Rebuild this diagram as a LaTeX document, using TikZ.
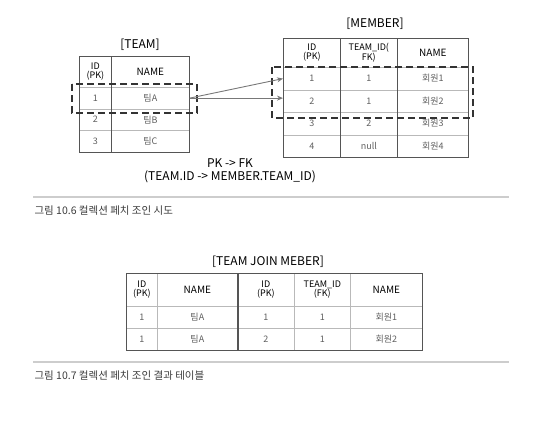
\documentclass[tikz,border=0pt]{standalone}
\usepackage{fontspec}
\setmainfont{Noto Sans CJK KR}
\usetikzlibrary{arrows.meta,positioning}
\definecolor{GridGray}{RGB}{185,185,185}
\definecolor{FrameGray}{RGB}{85,85,85}
\definecolor{CellText}{RGB}{95,95,95}
\definecolor{RuleGray}{RGB}{205,205,205}
\definecolor{CapText}{RGB}{60,60,60}
\definecolor{LinkGray}{RGB}{120,120,120}

\tikzset{
  cell/.style={draw=GridGray,line width=0.7pt,inner sep=0pt,anchor=north west,
    align=center,text=CellText,font=\fontsize{9}{10}\selectfont},
  head/.style={cell,text=black,font=\fontsize{9}{9}\selectfont},
  frame/.style={draw=FrameGray,line width=1pt},
  selbox/.style={draw=black!80,line width=1.6pt,dash pattern=on 7pt off 4pt},
  link/.style={draw=LinkGray,line width=0.9pt,-{Stealth[length=6pt,width=5pt]}},
  title/.style={font=\fontsize{12}{13.5}\selectfont},
  caption/.style={anchor=west,text=CapText,font=\fontsize{10.5}{12}\selectfont}
}

\begin{document}
\begin{tikzpicture}[x=1pt,y=-1pt]
  \useasboundingbox (0,0) rectangle (546,424);

  % TEAM table
  \node[title] (teamtitle) at (140,45) {[TEAM]};
  \node[head,minimum width=32,minimum height=31] (thid) at (79,56) {ID\\(PK)};
  \node[head,minimum width=78,minimum height=31,font=\fontsize{10}{10}\selectfont] (thnm) at (111,56) {NAME};
  \foreach \r/\y/\nm in {1/87/팀A,2/108.5/팀B,3/130/팀C}{
    \node[cell,minimum width=32,minimum height=21.5] (t\r id) at (79,\y) {\r};
    \node[cell,minimum width=78,minimum height=21.5] (t\r nm) at (111,\y) {\nm};
  }
  \draw[frame] (thid.north west) rectangle (t3nm.south east);
  \draw[frame] (thid.north east) -- (t3id.south east);

  % MEMBER table
  \node[title] (membertitle) at (375,24) {[MEMBER]};
  \node[head,minimum width=57,minimum height=29] (mhid) at (283,38) {ID\\(PK)};
  \node[head,minimum width=57,minimum height=29] (mhtm) at (340,38) {TEAM\_ID(\\FK)};
  \node[head,minimum width=71,minimum height=29,font=\fontsize{10}{10}\selectfont] (mhnm) at (397,38) {NAME};
  \foreach \r/\y/\tm/\nm in {1/67/1/회원1,2/89.5/1/회원2,3/112/2/회원3,4/134.5/null/회원4}{
    \node[cell,minimum width=57,minimum height=22.5] (m\r id) at (283,\y) {\r};
    \node[cell,minimum width=57,minimum height=22.5] (m\r tm) at (340,\y) {\tm};
    \node[cell,minimum width=71,minimum height=22.5] (m\r nm) at (397,\y) {\nm};
  }
  \draw[frame] (mhid.north west) rectangle (m4nm.south east);
  \draw[frame] (mhid.north east) -- (m4id.south east);
  \draw[frame] (mhtm.north east) -- (m4tm.south east);

  % fetch join try
  \draw[selbox] (72,84) rectangle (197,113);
  \draw[selbox] (272,67) rectangle (473,118);
  \draw[link] (t1nm.east) -- (m1id.west);
  \draw[link] (t1nm.east) -- (t1nm.east -| m2id.west);
  \node[title,align=center] (fklabel) at (230,171) {PK -> FK\\(TEAM.ID -> MEMBER.TEAM\_ID)};

  \draw[RuleGray,line width=1.5pt] (33,197) -- (509,197);
  \node[caption] (cap1) at (31,211) {그림 10.6 컬렉션 페치 조인 시도};

  % TEAM JOIN MEMBER result
  \node[title] (jointitle) at (268,262) {[TEAM JOIN MEBER]};
  \node[head,minimum width=31,minimum height=33] (jh1) at (126,273) {ID\\(PK)};
  \node[head,minimum width=80,minimum height=33,font=\fontsize{10}{10}\selectfont] (jh2) at (157,273) {NAME};
  \node[head,minimum width=57,minimum height=33] (jh3) at (237,273) {ID\\(PK)};
  \node[head,minimum width=56,minimum height=33] (jh4) at (294,273) {TEAM\_ID\\(FK)};
  \node[head,minimum width=72,minimum height=33,font=\fontsize{10}{10}\selectfont] (jh5) at (350,273) {NAME};
  \foreach \r/\y/\mid/\nm in {1/306/1/회원1,2/328/2/회원2}{
    \node[cell,minimum width=31,minimum height=22] (j\r a) at (126,\y) {1};
    \node[cell,minimum width=80,minimum height=22] (j\r b) at (157,\y) {팀A};
    \node[cell,minimum width=57,minimum height=22] (j\r c) at (237,\y) {\mid};
    \node[cell,minimum width=56,minimum height=22] (j\r d) at (294,\y) {1};
    \node[cell,minimum width=72,minimum height=22] (j\r e) at (350,\y) {\nm};
  }
  \draw[frame] (jh1.north west) rectangle (j2e.south east);
  \draw[frame,line width=1.6pt] (jh2.north east) -- (j2b.south east);

  \draw[RuleGray,line width=1.5pt] (33,362) -- (509,362);
  \node[caption] (cap2) at (31,376) {그림 10.7 컬렉션 페치 조인 결과 테이블};
\end{tikzpicture}
\end{document}
